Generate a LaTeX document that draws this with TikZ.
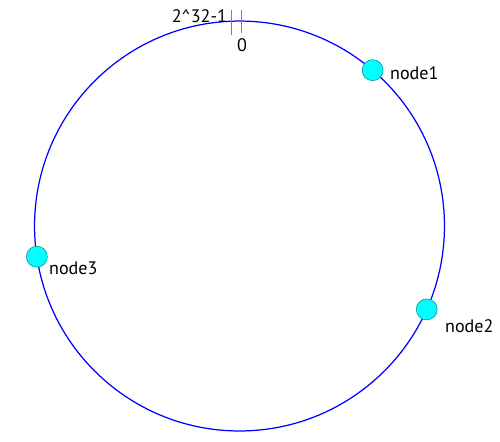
\documentclass[tikz,border=0pt]{standalone}
\usepackage{fontspec}
\setmainfont{PT Sans}
\usepackage{tikz}
\usetikzlibrary{positioning,calc}
\definecolor{aqua}{RGB}{0,255,255}
\definecolor{aquaedge}{RGB}{0,140,140}

\begin{document}
\begin{tikzpicture}[x=0.02cm, y=-0.02cm,
  font=\fontsize{10.3}{12}\selectfont,
  ring/.style={draw=blue, line width=0.7pt},
  srv/.style={draw=aquaedge, circle, fill=aqua, minimum size=0.42cm, inner sep=0pt, line width=0.3pt},
  tick/.style={draw=gray, line width=0.5pt},
  lbl/.style={inner sep=1pt, anchor=west}]
\useasboundingbox (0,0) rectangle (500,441);
% hash ring
\coordinate (c) at (239.5,226);
\draw[ring] (c) circle[radius=4.1cm];
% start / end of the hash space
\coordinate (t0a) at (231.5,10);
\coordinate (t0b) at (231.5,35);
\coordinate (t1a) at (241.5,10);
\coordinate (t1b) at (241.5,33);
\draw[tick] (t0a) -- (t0b);
\draw[tick] (t1a) -- (t1b);
\node[inner sep=1pt, anchor=east] (hmax) at (229,16) {2\^{}32-1};
\node[inner sep=1pt] (hmin) at (242,45) {0};
% servers on the ring
\node[srv] (n1) at ($(c)+(49.5:4.1cm)$) {};
\node[srv] (n2) at ($(c)+(-24:4.1cm)$) {};
\node[srv] (n3) at ($(c)+(188.6:4.1cm)$) {};
\node[lbl] (l1) at (388,73) {node1};
\node[lbl] (l2) at (443,326) {node2};
\node[lbl] (l3) at (47,268) {node3};
\end{tikzpicture}
\end{document}
